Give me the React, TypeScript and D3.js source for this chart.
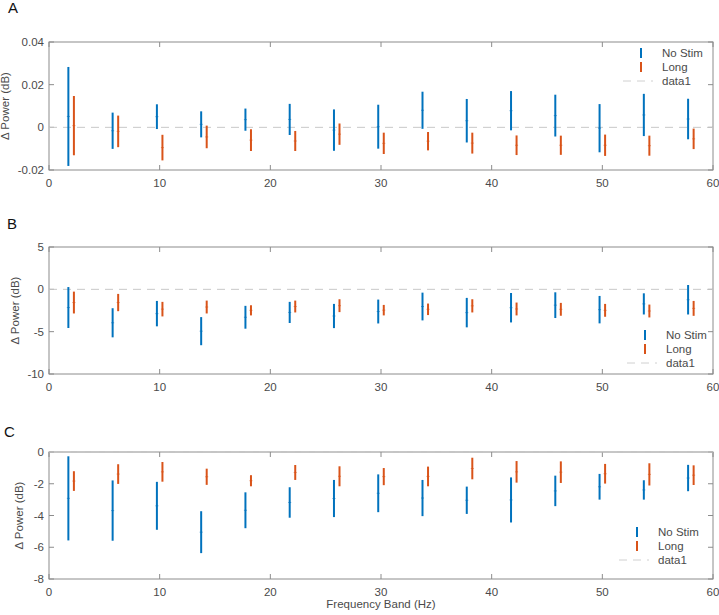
import React from "react";
import * as d3 from "d3";

const W = 719;
const H = 615;

const bands = [2, 6, 10, 14, 18, 22, 26, 30, 34, 38, 42, 46, 50, 54, 58];
const seriesNames = ["No Stim", "Long"];
const xTicks = [0, 10, 20, 30, 40, 50, 60];

// Panel A
const aNoStimMean = [0.0051, -0.0016, 0.005, 0.0014, 0.0036, 0.0037, -0.0013, 0.0003, 0.008, 0.0031, 0.0078, 0.0055, -0.0004, 0.0058, 0.0039];
const aNoStimErr = [0.0232, 0.0085, 0.0058, 0.0061, 0.0052, 0.0073, 0.0097, 0.0103, 0.0087, 0.0102, 0.0092, 0.0098, 0.0113, 0.0099, 0.0095];
const aLongMean = [0.0008, -0.0019, -0.0095, -0.0045, -0.006, -0.0064, -0.0032, -0.0075, -0.0065, -0.0074, -0.0084, -0.0084, -0.0084, -0.0086, -0.0054];
const aLongErr = [0.0139, 0.0074, 0.006, 0.0053, 0.0051, 0.0047, 0.005, 0.005, 0.0043, 0.0049, 0.0046, 0.0045, 0.005, 0.0047, 0.0048];
const aYTicks = [-0.02, 0, 0.02, 0.04];
const aYTickLabels = ["-0.02", "0", "0.02", "0.04"];

// Panel B
const bNoStimMean = [-2.15, -3.95, -2.87, -4.94, -3.3, -2.73, -3.15, -2.62, -2.03, -2.75, -2.17, -1.87, -2.4, -1.72, -1.23];
const bNoStimErr = [2.42, 1.72, 1.5, 1.66, 1.35, 1.25, 1.43, 1.41, 1.64, 1.74, 1.74, 1.52, 1.62, 1.25, 1.74];
const bLongMean = [-1.56, -1.56, -2.34, -2.09, -2.48, -2.03, -1.93, -2.46, -2.36, -1.95, -2.32, -2.36, -2.48, -2.56, -2.25];
const bLongErr = [1.29, 1.02, 0.86, 0.76, 0.6, 0.7, 0.76, 0.62, 0.68, 0.78, 0.76, 0.76, 0.76, 0.76, 0.88];
const bYTicks = [-10, -5, 0, 5];
const bYTickLabels = ["-10", "-5", "0", "5"];

// Panel C
const cNoStimMean = [-2.92, -3.69, -3.39, -5.05, -3.67, -3.18, -2.93, -2.6, -2.9, -3.04, -3.02, -2.45, -2.19, -2.39, -1.64];
const cNoStimErr = [2.65, 1.9, 1.51, 1.32, 1.13, 0.96, 1.17, 1.19, 1.14, 0.86, 1.42, 0.96, 0.81, 0.61, 0.83];
const cLongMean = [-1.83, -1.39, -1.25, -1.56, -1.81, -1.29, -1.53, -1.55, -1.54, -1.04, -1.25, -1.27, -1.37, -1.41, -1.46];
const cLongErr = [0.62, 0.62, 0.62, 0.51, 0.35, 0.47, 0.63, 0.54, 0.62, 0.68, 0.68, 0.68, 0.62, 0.7, 0.62];
const cYTicks = [-8, -6, -4, -2, 0];
const cYTickLabels = ["-8", "-6", "-4", "-2", "0"];

const BLUE = "#0072BD";
const ORANGE = "#D95319";
const AXIS = "#8c8c8c";
const TEXT = "#4a4a4a";
const FONT = "'Liberation Sans', Arial, Helvetica, sans-serif";
const FS = 11.5;

const X0 = 49;
const X1 = 713;
const OFFSET = 0.25;

type PanelProps = {
  letter: string;
  letterX: number;
  letterY: number;
  top: number;
  bottom: number;
  yDomain: [number, number];
  yTicks: number[];
  yTickLabels: string[];
  noMean: number[];
  noErr: number[];
  longMean: number[];
  longErr: number[];
  legendY: number;
  legendX: number;
  yLabelX: number;
  showXLabel?: boolean;
};

function ErrBars({ x, y, means, errs, dx, color }: any) {
  return (
    <g>
      {bands.map((b, i) => {
        const cx = x(b + dx);
        return (
          <g key={i}>
            <line x1={cx} x2={cx} y1={y(means[i] + errs[i])} y2={y(means[i] - errs[i])} stroke={color} strokeWidth={2} />
            <line x1={cx - 1.5} x2={cx + 1.5} y1={y(means[i])} y2={y(means[i])} stroke={color} strokeWidth={1} opacity={0.6} />
          </g>
        );
      })}
    </g>
  );
}

function Panel(p: PanelProps) {
  const x = d3.scaleLinear().domain([0, 60]).range([X0, X1]);
  const y = d3.scaleLinear().domain(p.yDomain).range([p.bottom, p.top]);
  const tl = 5;
  return (
    <g>
      <text x={p.letterX} y={p.letterY} fontSize={15} fill="#111" fontFamily={FONT}>{p.letter}</text>
      {xTicks.map((t) => (
        <g key={"xt" + t}>
          <line x1={x(t)} x2={x(t)} y1={p.bottom} y2={p.bottom - tl} stroke={AXIS} strokeWidth={1} />
          <line x1={x(t)} x2={x(t)} y1={p.top} y2={p.top + tl} stroke={AXIS} strokeWidth={1} />
          <text x={x(t)} y={p.bottom + 17} fontSize={FS} fill={TEXT} textAnchor="middle" fontFamily={FONT}>{t}</text>
        </g>
      ))}
      {p.yTicks.map((t, i) => (
        <g key={"yt" + t}>
          <line x1={X0} x2={X0 + tl} y1={y(t)} y2={y(t)} stroke={AXIS} strokeWidth={1} />
          <line x1={X1} x2={X1 - tl} y1={y(t)} y2={y(t)} stroke={AXIS} strokeWidth={1} />
          <text x={X0 - 5} y={y(t) + 4} fontSize={FS} fill={TEXT} textAnchor="end" fontFamily={FONT}>{p.yTickLabels[i]}</text>
        </g>
      ))}
      <rect x={X0} y={p.top} width={X1 - X0} height={p.bottom - p.top} fill="none" stroke={AXIS} strokeWidth={1} />
      <line x1={X0} x2={X1} y1={y(0)} y2={y(0)} stroke="#c8c8c8" strokeWidth={1} strokeDasharray="8,6" />
      <ErrBars x={x} y={y} means={p.noMean} errs={p.noErr} dx={-OFFSET} color={BLUE} />
      <ErrBars x={x} y={y} means={p.longMean} errs={p.longErr} dx={OFFSET} color={ORANGE} />
      <text
        transform={`translate(${p.yLabelX},${(p.top + p.bottom) / 2}) rotate(-90)`}
        fontSize={FS}
        fill={TEXT}
        textAnchor="middle"
        fontFamily={FONT}
      >
        Δ Power (dB)
      </text>
      <g>
        {[BLUE, ORANGE].map((c, i) => {
          const ly = p.legendY + i * 14;
          return (
            <g key={"lg" + i}>
              <line x1={p.legendX - 21} x2={p.legendX - 21} y1={ly - 5} y2={ly + 5} stroke={c} strokeWidth={2} />
              <text x={p.legendX} y={ly + 4} fontSize={FS} fill={TEXT} fontFamily={FONT}>{seriesNames[i]}</text>
            </g>
          );
        })}
        <line x1={p.legendX - 39} x2={p.legendX - 9} y1={p.legendY + 28} y2={p.legendY + 28} stroke="#d0d0d0" strokeWidth={1} strokeDasharray="8,6" />
        <text x={p.legendX} y={p.legendY + 32} fontSize={FS} fill={TEXT} fontFamily={FONT}>data1</text>
      </g>
      {p.showXLabel && (
        <text x={(X0 + X1) / 2} y={608} fontSize={FS} fill={TEXT} textAnchor="middle" fontFamily={FONT}>
          Frequency Band (Hz)
        </text>
      )}
    </g>
  );
}

export default function App() {
  return (
    <svg width={W} height={H} style={{ position: "absolute", left: 0, top: 0, background: "#fff" }}>
      <rect x={0} y={0} width={W} height={H} fill="#fff" />
      <Panel
        letter="A" letterX={8} letterY={13} top={42} bottom={170}
        yDomain={[-0.02, 0.04]} yTicks={aYTicks} yTickLabels={aYTickLabels}
        noMean={aNoStimMean} noErr={aNoStimErr} longMean={aLongMean} longErr={aLongErr}
        legendX={662} legendY={53} yLabelX={9}
      />
      <Panel
        letter="B" letterX={7} letterY={229} top={247} bottom={374}
        yDomain={[-10, 5]} yTicks={bYTicks} yTickLabels={bYTickLabels}
        noMean={bNoStimMean} noErr={bNoStimErr} longMean={bLongMean} longErr={bLongErr}
        legendX={666} legendY={335} yLabelX={19}
      />
      <Panel
        letter="C" letterX={4} letterY={437} top={452} bottom={579}
        yDomain={[-8, 0]} yTicks={cYTicks} yTickLabels={cYTickLabels}
        noMean={cNoStimMean} noErr={cNoStimErr} longMean={cLongMean} longErr={cLongErr}
        legendX={658} legendY={532} yLabelX={23} showXLabel
      />
    </svg>
  );
}
